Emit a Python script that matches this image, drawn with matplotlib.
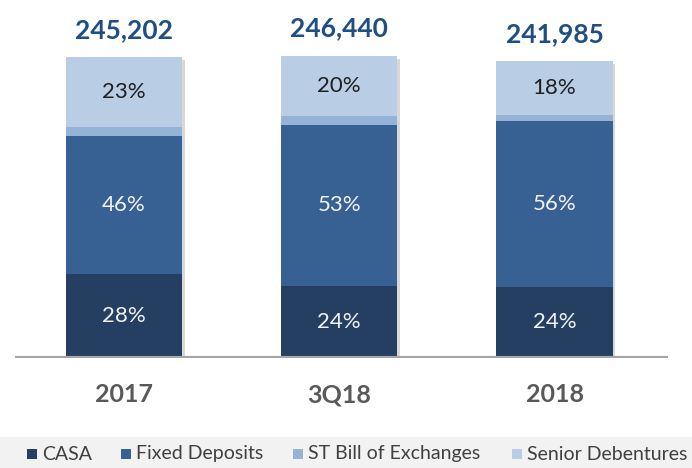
import numpy as np
import matplotlib.pyplot as plt
from matplotlib.patches import Rectangle
import matplotlib.patheffects as pe

plt.rcParams['font.family'] = ['Lato', 'DejaVu Sans']

# data
periods = ['2017', '3Q18', '2018']
totals = [245202, 246440, 241985]
series = ['CASA', 'Fixed Deposits', 'ST Bill of Exchanges', 'Senior Debentures']
shares = {
    'CASA': [28, 24, 24],
    'Fixed Deposits': [46, 53, 56],
    'ST Bill of Exchanges': [3, 3, 2],
    'Senior Debentures': [23, 20, 18],
}
show_label = [True, True, False, True]

colors = ['#243F62', '#376093', '#95B3D7', '#B9CDE5']
text_colors = ['#F2F2F2', '#F2F2F2', 'white', '#1F1F1F']

fig = plt.figure(figsize=(6.92, 4.68), dpi=100)
ax = fig.add_axes([15 / 692, 110 / 468, 653 / 692, 338 / 468])

x = np.arange(len(periods))
totals_arr = np.array(totals, dtype=float)
width = 0.54

# soft shadow behind each whole bar
sh = ax.bar(x, totals_arr, width=width, color='white', linewidth=0, zorder=1)
for b in sh:
    b.set_path_effects([pe.SimplePatchShadow(offset=(2, -2), shadow_rgbFace='#7F7F7F', alpha=0.3)])

bottom = np.zeros(len(periods))
for i, name in enumerate(series):
    vals = totals_arr * np.array(shares[name]) / 100.0
    ax.bar(x, vals, width=width, bottom=bottom, color=colors[i], linewidth=0, zorder=2)
    if show_label[i]:
        for xi, v, b0, s in zip(x, vals, bottom, shares[name]):
            ax.text(xi, b0 + v / 2, f'{s}%', ha='center', va='center',
                    fontsize=16, color=text_colors[i], zorder=4)
    bottom += vals

for xi, t in zip(x, totals):
    ax.annotate(f'{t:,}', (xi, t), xytext=(0, 20), textcoords='offset points',
                ha='center', va='center', fontsize=19, fontweight='bold', color='#1F4E85')

ax.axhline(0, color='#A6A6A6', linewidth=3, zorder=3, solid_capstyle='butt',
           path_effects=[pe.SimpleLineShadow(offset=(0, -2.5), shadow_color='#7F7F7F', alpha=0.35), pe.Normal()])

ax.set_xlim(-0.506, 2.527)
ax.set_ylim(0, 275800)
ax.set_xticks(x)
ax.set_xticklabels(periods, fontsize=18, fontweight='bold', color='#595959')
ax.tick_params(axis='x', length=0, pad=18)
ax.set_yticks([])
for sp in ax.spines.values():
    sp.set_visible(False)

# legend band
fig.patches.append(Rectangle((0, 0), 1, 31 / 468, transform=fig.transFigure,
                             facecolor='#F2F2F2', edgecolor='none', zorder=0))
leg_x = [27, 121, 293, 512]
for lx, name, c in zip(leg_x, series, colors):
    fig.patches.append(Rectangle((lx / 692, 9 / 468), 10 / 692, 10 / 468, transform=fig.transFigure,
                                 facecolor=c, edgecolor='none', zorder=1))
    fig.text((lx + 15) / 692, 14 / 468, name, ha='left', va='center', fontsize=14, color='#404040')

fig.savefig('out.png', dpi=100)
